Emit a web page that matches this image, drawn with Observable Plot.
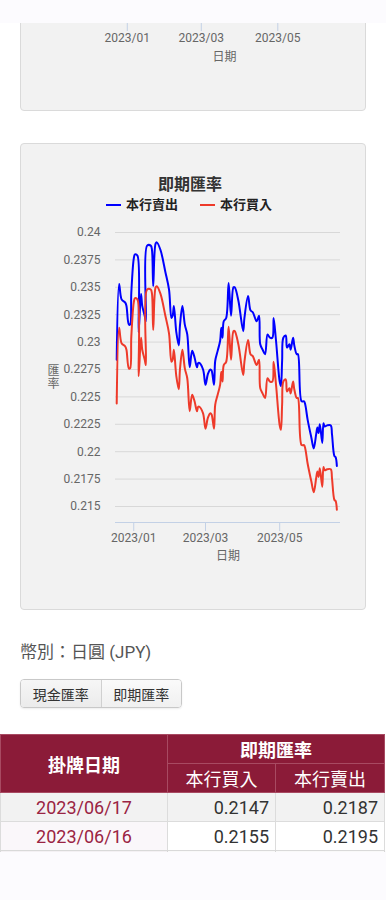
<!DOCTYPE html>
<html><head><meta charset="utf-8">
<script src="https://cdn.jsdelivr.net/npm/d3@7"></script>
<script src="https://cdn.jsdelivr.net/npm/@observablehq/plot@0.6"></script>
<style>
html,body{margin:0;padding:0}
body{width:386px;height:900px;position:relative;overflow:hidden;background:#fff;font-family:Roboto,"Noto Sans CJK TC",sans-serif;}
.abs{position:absolute}
.panel{position:absolute;background:#f2f2f2;border:1px solid #dadada;border-radius:4px;box-sizing:border-box}
#title{left:20px;width:340px;text-align:center;top:176px;font-size:16px;line-height:18px;font-weight:bold;color:#333}
#legend{left:20px;width:338px;top:197px;display:flex;justify-content:center;align-items:center;font-size:13px;line-height:16px;font-weight:bold;color:#222}
.sw{width:15px;height:2px;margin-right:5px}
.item{display:flex;align-items:center;margin:0 11px}
#cur{left:20px;top:641px;font-size:17px;line-height:22px;color:#555}
#btns{left:20px;top:679px;height:29px;width:162px;display:flex;border:1px solid #c8c8c8;border-radius:4px;box-sizing:border-box;overflow:hidden;box-shadow:0 1px 2px rgba(0,0,0,0.08)}
#btns div{flex:1;display:flex;align-items:center;justify-content:center;font-size:14px;color:#333}
#b1{background:linear-gradient(#f6f6f6,#ebebeb);border-right:1px solid #d0d0d0}
#b2{background:linear-gradient(#fafafa,#f0f0f0)}
table{position:absolute;left:0;top:734px;width:384px;border-collapse:collapse;table-layout:fixed}
th{background:#8b1b38;color:#fff;font-size:18px;border:1px solid #a84a62;padding:0}
th.main{font-weight:bold}
th.sub{font-weight:normal}
td{font-size:18px;border:1px solid #dcdcdc;padding:0 6px;height:28px}
td.d{color:#9a2443;text-align:center}
td.n{color:#333;text-align:right}
tr.r1 td{background:#f2f2f2}
tr.r2 td{background:#fff}
tr.r2 td.d{background:#faf7fa}
#topbar{left:0;top:0;width:386px;height:23px;background:#fcfbfe}
#botbar{left:0;top:852px;width:386px;height:48px;background:#fcfbfe;box-shadow:0 -1px 2px rgba(0,0,0,0.04)}
</style></head><body>
<div class="panel" style="left:20px;top:-20px;width:346px;height:131px"></div>
<div id="topchart" class="abs" style="left:20px;top:0px"></div>
<div id="topbar" class="abs"></div>

<div class="panel" style="left:20px;top:143px;width:346px;height:467px"></div>
<div id="title" class="abs"></div>
<div id="legend" class="abs"></div>
<div id="chart" class="abs" style="left:20px;top:222px"></div>

<div id="cur" class="abs">幣別：日圓 (JPY)</div>
<div id="btns" class="abs"><div id="b1">現金匯率</div><div id="b2">即期匯率</div></div>
<table id="tbl"></table>
<div id="botbar" class="abs"></div>

<script>
const chartTitle = "即期匯率";
const seriesNames = ["本行賣出", "本行買入"];
const seriesColors = ["#0000ff", "#ee3a2a"];
const xLabel = "日期";
const yLabel = "匯\n率";

const dates = [
"2022-12-18","2022-12-20","2022-12-22","2022-12-25","2022-12-26","2022-12-28","2022-12-29","2022-12-30","2023-01-01","2023-01-02",
"2023-01-04","2023-01-05","2023-01-07","2023-01-08","2023-01-10","2023-01-11","2023-01-12","2023-01-15","2023-01-16","2023-01-17",
"2023-01-19","2023-01-20","2023-01-23","2023-01-27","2023-01-30","2023-02-01","2023-02-02","2023-02-03","2023-02-05","2023-02-07",
"2023-02-08","2023-02-10","2023-02-12","2023-02-14","2023-02-16","2023-02-18","2023-02-20","2023-02-22","2023-02-23","2023-02-24",
"2023-02-27","2023-03-01","2023-03-03","2023-03-05","2023-03-06","2023-03-08","2023-03-09","2023-03-11","2023-03-13","2023-03-14",
"2023-03-15","2023-03-16","2023-03-18","2023-03-20","2023-03-22","2023-03-24","2023-03-25","2023-03-28","2023-04-01","2023-04-02",
"2023-04-05","2023-04-07","2023-04-09","2023-04-12","2023-04-14","2023-04-15","2023-04-17","2023-04-19","2023-04-21","2023-04-23",
"2023-04-25","2023-04-26","2023-04-28","2023-05-01","2023-05-02","2023-05-03","2023-05-04","2023-05-06","2023-05-07","2023-05-09",
"2023-05-10","2023-05-12","2023-05-13","2023-05-15","2023-05-16","2023-05-19","2023-05-21","2023-05-22","2023-05-24","2023-05-27",
"2023-05-29","2023-05-31","2023-06-01","2023-06-02","2023-06-03","2023-06-05","2023-06-06","2023-06-07","2023-06-09","2023-06-12",
"2023-06-13","2023-06-15","2023-06-16","2023-06-17"];

const sell = [
0.2284,0.2353,0.2339,0.2336,0.2333,0.2316,0.2316,0.2345,0.2376,0.2380,
0.2379,0.2309,0.2344,0.2333,0.2324,0.2319,0.2388,0.2388,0.2384,0.2351,
0.2390,0.2391,0.2384,0.2364,0.2348,0.2322,0.2324,0.2333,0.2309,0.2297,
0.2315,0.2333,0.2316,0.2307,0.2277,0.2292,0.2286,0.2277,0.2281,0.2281,
0.2275,0.2261,0.2271,0.2275,0.2274,0.2261,0.2283,0.2292,0.2301,0.2313,
0.2304,0.2319,0.2322,0.2354,0.2324,0.2350,0.2350,0.2338,0.2310,0.2322,
0.2342,0.2329,0.2327,0.2319,0.2324,0.2298,0.2293,0.2289,0.2307,0.2304,
0.2304,0.2322,0.2301,0.2264,0.2260,0.2283,0.2304,0.2306,0.2295,0.2298,
0.2293,0.2304,0.2297,0.2289,0.2289,0.2246,0.2246,0.2243,0.2229,0.2213,
0.2203,0.2216,0.2222,0.2217,0.2225,0.2208,0.2226,0.2223,0.2224,0.2224,
0.2216,0.2196,0.2195,0.2187];

const buy = [
0.2244,0.2313,0.2299,0.2296,0.2293,0.2276,0.2276,0.2305,0.2336,0.2340,
0.2339,0.2269,0.2304,0.2293,0.2284,0.2279,0.2348,0.2348,0.2344,0.2311,
0.2350,0.2351,0.2344,0.2324,0.2308,0.2282,0.2284,0.2293,0.2269,0.2257,
0.2275,0.2293,0.2276,0.2267,0.2237,0.2252,0.2246,0.2237,0.2241,0.2241,
0.2235,0.2221,0.2231,0.2235,0.2234,0.2221,0.2243,0.2252,0.2261,0.2273,
0.2264,0.2279,0.2282,0.2314,0.2284,0.2310,0.2310,0.2298,0.2270,0.2282,
0.2302,0.2289,0.2287,0.2279,0.2284,0.2258,0.2253,0.2249,0.2267,0.2264,
0.2264,0.2282,0.2261,0.2224,0.2220,0.2243,0.2264,0.2266,0.2255,0.2258,
0.2253,0.2264,0.2257,0.2249,0.2249,0.2206,0.2206,0.2203,0.2189,0.2173,
0.2163,0.2176,0.2182,0.2177,0.2185,0.2168,0.2186,0.2183,0.2184,0.2184,
0.2176,0.2156,0.2155,0.2147];

const xTicks = ["2023-01-01", "2023-03-01", "2023-05-01"];
const yTicks = [0.215, 0.2175, 0.22, 0.2225, 0.225, 0.2275, 0.23, 0.2325, 0.235, 0.2375, 0.24];

const tableDates = ["2023/06/17", "2023/06/16"];
const tableBuy = ["0.2147", "0.2155"];
const tableSell = ["0.2187", "0.2195"];

const parse = d3.utcParse("%Y-%m-%d");
const rows = dates.map((d, i) => ({date: parse(d), sell: sell[i], buy: buy[i]}));
const xDomain = [parse("2022-12-17"), parse("2023-06-20")];
const yDomain = [0.21354, 0.24];
const font = "Roboto, 'Noto Sans CJK TC', sans-serif";
const axisColor = "#c3d1e6";
const fs = 12;

document.getElementById("title").textContent = chartTitle;
const legend = document.getElementById("legend");
seriesNames.forEach((n, i) => {
  const it = document.createElement("div"); it.className = "item";
  it.innerHTML = `<div class="sw" style="background:${seriesColors[i]}"></div><span>${n}</span>`;
  legend.appendChild(it);
});

// top (previous) chart: only its x axis is visible
const topChart = Plot.plot({
  width: 346, height: 80, marginTop: 0, marginBottom: 57, marginLeft: 88, marginRight: 26,
  style: {background: "transparent", color: "#666", fontSize: "12px", fontFamily: font, overflow: "visible"},
  x: {type: "utc", domain: xDomain},
  marks: [
    Plot.axisX(xTicks.map(parse), {tickSize: 8, tickPadding: 2, stroke: axisColor, fill: "#666", fontSize: fs, tickFormat: d3.utcFormat("%Y/%m"), label: null}),
    Plot.text([xLabel], {text: d => d, frameAnchor: "bottom", lineAnchor: "middle", textAnchor: "middle", dy: 34, fill: "#666", fontSize: fs})
  ]
});
document.getElementById("topchart").appendChild(topChart);

const chart = Plot.plot({
  width: 346, height: 350, marginTop: 10, marginBottom: 50, marginLeft: 95, marginRight: 26,
  style: {background: "transparent", color: "#666", fontSize: "12px", fontFamily: font, overflow: "visible"},
  x: {type: "utc", domain: xDomain},
  y: {domain: yDomain},
  marks: [
    Plot.gridY(yTicks, {stroke: "#d8d8d8", strokeOpacity: 1}),
    Plot.ruleY([yDomain[0]], {stroke: axisColor}),
    Plot.axisY(yTicks, {tickSize: 0, tickPadding: 15, fill: "#666", fontSize: fs, tickFormat: d => String(+d.toFixed(4)), label: null}),
    Plot.axisX(xTicks.map(parse), {tickSize: 9, tickPadding: 2, stroke: axisColor, fill: "#666", fontSize: fs, tickFormat: d3.utcFormat("%Y/%m"), label: null}),
    Plot.text([xLabel], {text: d => d, frameAnchor: "bottom", lineAnchor: "middle", textAnchor: "middle", dy: 34, fill: "#666", fontSize: fs}),
    Plot.text([yLabel], {text: d => d, frameAnchor: "left", textAnchor: "middle", lineAnchor: "middle", dx: -62, lineHeight: 1.1, fill: "#666", fontSize: fs}),
    Plot.line(rows, {x: "date", y: "sell", stroke: seriesColors[0], strokeWidth: 2, curve: "catmull-rom"}),
    Plot.line(rows, {x: "date", y: "buy", stroke: seriesColors[1], strokeWidth: 2, curve: "catmull-rom"})
  ]
});
document.getElementById("chart").appendChild(chart);

// table
const tbl = document.getElementById("tbl");
let html = `<colgroup><col style="width:167px"><col style="width:108px"><col style="width:109px"></colgroup>`;
html += `<tr style="height:29px"><th class="main" rowspan="2">掛牌日期</th><th class="main" colspan="2">${chartTitle}</th></tr>`;
html += `<tr style="height:29px"><th class="sub">${seriesNames[1]}</th><th class="sub">${seriesNames[0]}</th></tr>`;
tableDates.forEach((d, i) => {
  html += `<tr class="r${i + 1}"><td class="d">${d}</td><td class="n">${tableBuy[i]}</td><td class="n">${tableSell[i]}</td></tr>`;
});
html += `<tr class="r2"><td class="d">&nbsp;</td><td class="n"></td><td class="n"></td></tr>`;
tbl.innerHTML = html;
</script>
</body></html>
